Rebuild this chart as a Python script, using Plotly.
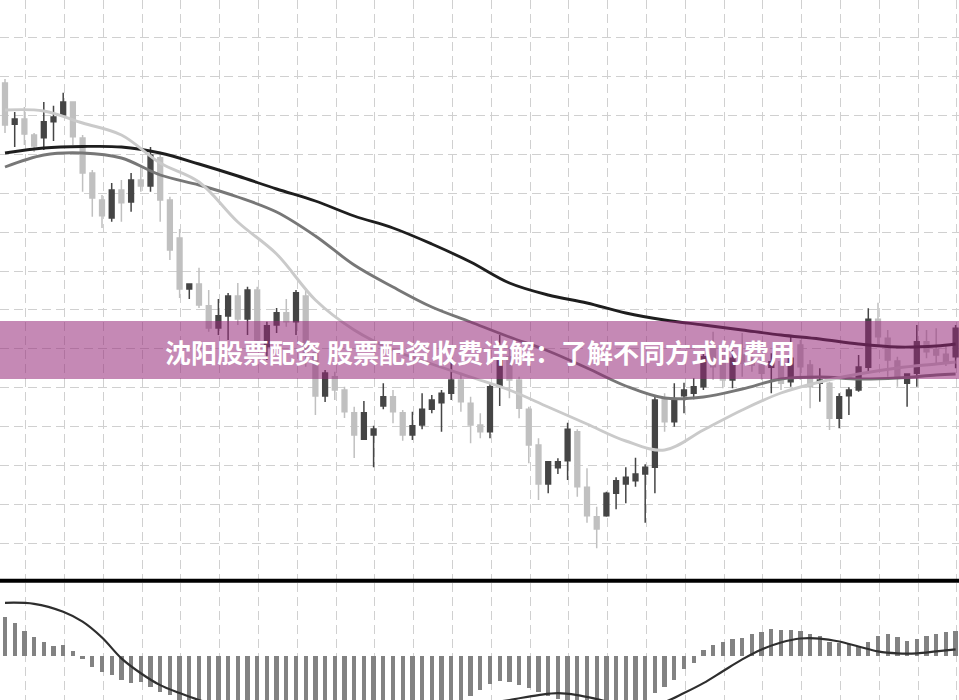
import plotly.graph_objects as go

# ---- candle data (price units) ----
opens = [56.7, 52.57, 53.1, 51.5, 51.23, 52.83, 53.5, 54.8, 51.2, 47.7,
         45.0, 43.2, 46.0, 44.8, 47.0, 46.4, 49.23, 45.0, 41.2, 36.1,
         36.6, 34.43, 32.2, 33.4, 35.4, 33.1, 36.0, 30.33, 32.5, 33.73,
         32.83, 35.4, 29.7, 25.4, 27.33, 26.0, 23.73, 21.07, 21.5, 24.4,
         25.33, 23.73, 21.5, 22.5, 24.07, 24.73, 25.67, 27.0, 24.67, 22.5,
         21.83, 26.4, 29.33, 27.0, 24.07, 20.5, 16.6, 18.23, 18.93, 21.83,
         16.27, 13.33, 13.43, 15.67, 16.6, 16.93, 17.6, 18.27, 25.07, 22.83,
         25.43, 25.67, 26.33, 30.33, 28.83, 27.0, 29.5, 29.0, 28.5, 28.27,
         28.83, 26.83, 30.5, 28.5, 26.67, 26.67, 23.17, 25.43, 26.0, 28.27,
         33.07, 31.17, 28.9, 26.67, 27.67, 30.83, 30.07, 29.57, 29.33]
highs = [57.1, 53.8, 54.3, 51.7, 54.8, 54.43, 55.73, 54.83, 51.5, 48.0,
         45.5, 46.7, 47.0, 47.7, 48.5, 50.3, 49.83, 45.33, 42.1, 36.65,
         38.23, 36.0, 35.1, 35.7, 36.7, 36.33, 36.33, 32.83, 34.2, 35.1,
         36.0, 36.2, 30.0, 28.0, 27.83, 26.33, 24.33, 24.9, 22.43, 26.67,
         26.0, 24.0, 23.83, 25.67, 25.5, 26.0, 29.0, 27.67, 25.33, 23.67,
         26.67, 31.5, 30.33, 27.33, 24.33, 21.17, 18.9, 19.17, 22.73, 22.07,
         18.17, 14.33, 15.83, 17.27, 18.27, 19.23, 18.57, 25.5, 25.67, 26.67,
         26.73, 27.17, 29.67, 31.83, 29.83, 30.0, 31.7, 30.33, 29.5, 29.67,
         29.33, 31.5, 31.0, 29.0, 28.17, 26.83, 25.67, 26.27, 29.5, 34.17,
         34.73, 32.0, 29.33, 27.67, 32.5, 32.0, 32.17, 30.5, 32.5]
lows = [51.7, 50.3, 50.5, 49.8, 50.0, 50.9, 53.33, 50.5, 45.83, 43.33,
        42.2, 42.83, 42.83, 43.83, 45.83, 45.83, 42.83, 39.0, 35.2, 35.1,
        34.2, 31.83, 31.5, 31.0, 32.5, 31.5, 30.5, 29.0, 31.7, 32.33,
        31.5, 28.33, 23.5, 24.8, 25.0, 23.2, 19.2, 21.0, 18.27, 24.07,
        22.67, 20.93, 21.0, 22.07, 23.67, 21.83, 25.0, 23.83, 20.67, 21.17,
        21.17, 24.4, 25.17, 23.17, 18.67, 15.0, 15.67, 17.6, 17.0, 15.33,
        12.73, 10.17, 13.33, 14.07, 14.67, 16.33, 12.73, 15.67, 21.83, 22.33,
        23.67, 25.07, 26.0, 27.0, 26.17, 26.17, 27.33, 27.83, 27.0, 25.67,
        26.0, 26.33, 27.0, 24.17, 24.83, 22.0, 22.17, 23.5, 25.83, 27.73,
        30.5, 27.33, 26.33, 24.33, 26.33, 29.17, 28.5, 28.4, 28.17]
closes = [52.5, 53.1, 51.6, 50.4, 52.83, 53.3, 54.8, 51.33, 47.7, 45.2,
          43.43, 46.0, 44.73, 47.0, 46.4, 49.5, 45.0, 40.0, 36.1, 36.6,
          34.5, 32.2, 33.43, 35.4, 33.1, 36.0, 31.0, 32.43, 33.73, 32.83,
          35.73, 29.7, 25.4, 27.7, 26.0, 23.83, 21.5, 23.73, 22.1, 25.33,
          23.83, 21.5, 22.43, 24.07, 25.0, 25.67, 27.0, 24.83, 22.5, 21.83,
          26.33, 29.0, 27.0, 24.17, 20.5, 16.6, 18.83, 18.83, 22.07, 16.33,
          13.43, 12.1, 15.67, 16.93, 17.27, 17.6, 18.27, 25.0, 22.83, 25.07,
          26.0, 26.33, 29.33, 28.33, 27.0, 29.17, 28.67, 28.5, 27.67, 28.83,
          26.67, 29.17, 28.33, 26.33, 27.0, 23.17, 25.33, 26.0, 28.3, 33.07,
          31.33, 29.0, 27.17, 27.6, 30.83, 29.83, 29.5, 28.83, 32.17]
bar_idx = list(range(len(opens)))

# ---- moving averages read at sampled bars ----
ma_idx = [0, 4, 8, 12, 16, 20, 24, 28, 32, 36, 40, 44, 48, 52, 56, 60, 64,
          68, 72, 76, 80, 84, 88, 92, 96, 98]
ma_fast = [54.0, 53.9, 52.7, 51.5, 48.7, 46.8, 42.8, 39.6, 35.0, 32.0, 30.0,
           28.6, 27.3, 26.0, 24.3, 22.6, 20.9, 20.0, 22.0, 24.0, 25.7, 26.8,
           27.6, 28.2, 28.6, 28.8]
ma_mid = [48.3, 49.5, 49.7, 49.2, 47.5, 46.5, 45.3, 43.8, 41.4, 38.5, 36.3,
          34.3, 32.8, 31.3, 29.9, 28.2, 26.4, 25.2, 25.3, 26.1, 27.1, 27.3,
          27.1, 27.2, 27.5, 27.6]
ma_slow = [49.7, 50.2, 50.35, 50.3, 49.7, 48.6, 47.4, 46.1, 44.9, 43.4, 42.2,
           40.6, 38.8, 36.7, 35.5, 34.7, 33.7, 33.0, 32.5, 32.0, 31.5, 31.1,
           30.6, 30.3, 30.4, 30.6]

# ---- MACD panel ----
macd_hist = [0.40, 0.34, 0.26, 0.20, 0.15, 0.10, 0.11, 0.05, -0.03, -0.11,
             -0.16, -0.19, -0.24, -0.27, -0.26, -0.31, -0.36, -0.39, -0.48, -0.52,
             -0.55, -0.58, -0.60, -0.62, -0.63, -0.64, -0.65, -0.65, -0.64, -0.63,
             -0.62, -0.62, -0.60, -0.60, -0.58, -0.58, -0.57, -0.56, -0.55, -0.54,
             -0.53, -0.52, -0.51, -0.50, -0.49, -0.48, -0.47, -0.46, -0.40, -0.34,
             -0.28, -0.25, -0.26, -0.29, -0.32, -0.36, -0.40, -0.43, -0.46, -0.49,
             -0.51, -0.51, -0.50, -0.50, -0.48, -0.46, -0.45, -0.37, -0.31, -0.24,
             -0.13, -0.07, 0.06, 0.11, 0.14, 0.18, 0.19, 0.23, 0.25, 0.28,
             0.27, 0.27, 0.26, 0.23, 0.21, 0.14, 0.13, 0.12, 0.10, 0.15,
             0.21, 0.23, 0.20, 0.16, 0.18, 0.21, 0.23, 0.25, 0.26]
sig_idx = [0, 3, 6, 8, 10, 12, 14, 16, 18, 20, 24, 30, 36, 42, 48, 52, 55, 57,
           59, 61, 64, 66, 68, 70, 72, 74, 76, 78, 80, 82, 84, 86, 88, 90, 92,
           94, 96, 98]
sig_val = [0.54, 0.53, 0.45, 0.35, 0.19, -0.02, -0.17, -0.29, -0.37, -0.44,
           -0.55, -0.62, -0.65, -0.60, -0.50, -0.44, -0.39, -0.37, -0.39, -0.43,
           -0.50, -0.50, -0.46, -0.37, -0.27, -0.15, -0.03, 0.07, 0.14, 0.18,
           0.18, 0.15, 0.10, 0.05, 0.03, 0.03, 0.05, 0.07]

title_text = "沈阳股票配资 股票配资收费详解：了解不同方式的费用"

W, H = 959, 700
fig = go.Figure()

fig.add_trace(go.Candlestick(
    x=bar_idx, open=opens, high=highs, low=lows, close=closes,
    increasing=dict(line=dict(color="#454545", width=1.5), fillcolor="#454545"),
    decreasing=dict(line=dict(color="#c0c0c0", width=1.5), fillcolor="#c0c0c0"),
    whiskerwidth=0, xaxis="x", yaxis="y", hoverinfo="skip"))

for vals, col in [(ma_slow, "#1e1e1e"), (ma_mid, "#777777"), (ma_fast, "#cacaca")]:
    fig.add_trace(go.Scatter(x=ma_idx, y=vals, mode="lines",
                             line=dict(color=col, width=2.9, shape="spline", smoothing=1.0),
                             xaxis="x", yaxis="y", hoverinfo="skip"))

fig.add_trace(go.Bar(x=bar_idx, y=macd_hist, marker=dict(color="#828282", line=dict(width=0)),
                     width=0.45, xaxis="x2", yaxis="y2", hoverinfo="skip"))
fig.add_trace(go.Scatter(x=sig_idx, y=sig_val, mode="lines",
                         line=dict(color="#2e2e2e", width=2.2, shape="spline", smoothing=1.0),
                         xaxis="x2", yaxis="y2", hoverinfo="skip"))

xr = [-0.515, 98.35]
grid = dict(showgrid=True, gridcolor="#d0d0d0", gridwidth=1, griddash="9px,5px")
fig.update_layout(
    width=W, height=H, margin=dict(l=0, r=0, t=0, b=0),
    paper_bgcolor="white", plot_bgcolor="white", showlegend=False,
    boxgap=0.3, bargap=0,
    xaxis=dict(domain=[0, 1], range=xr, anchor="y", tick0=2.13, dtick=4,
               showticklabels=False, ticks="", zeroline=False,
               rangeslider=dict(visible=False), **grid),
    xaxis2=dict(domain=[0, 1], range=xr, anchor="y2", tick0=2.13, dtick=4,
                showticklabels=False, ticks="", zeroline=False, **grid),
    yaxis=dict(domain=[1 - 580 / H, 1], range=[7.0, 65.0], tick0=57.35, dtick=3.89,
               showticklabels=False, ticks="", zeroline=False, **grid),
    yaxis2=dict(domain=[0, 1 - 583 / H], range=[-0.44, 0.74], showgrid=False,
                showticklabels=False, ticks="", zeroline=False),
    shapes=[
        dict(type="line", xref="paper", yref="paper", x0=0, x1=1,
             y0=1 - 580.7 / H, y1=1 - 580.7 / H, line=dict(color="black", width=4)),
        dict(type="rect", xref="paper", yref="paper", x0=0, x1=1,
             y0=1 - 379 / H, y1=1 - 321 / H, fillcolor="rgba(150,40,120,0.55)",
             line=dict(width=0), layer="above"),
    ],
    annotations=[dict(text=title_text, xref="paper", yref="paper", x=0.5, y=1 - 351 / H,
                      xanchor="center", yanchor="middle", showarrow=False,
                      font=dict(family="Noto Sans CJK SC", size=26, color="white", weight=700))],
)

fig.write_html("out.html", config={"displayModeBar": False},
               post_script="document.body.style.margin='0';document.body.style.overflow='hidden';")
